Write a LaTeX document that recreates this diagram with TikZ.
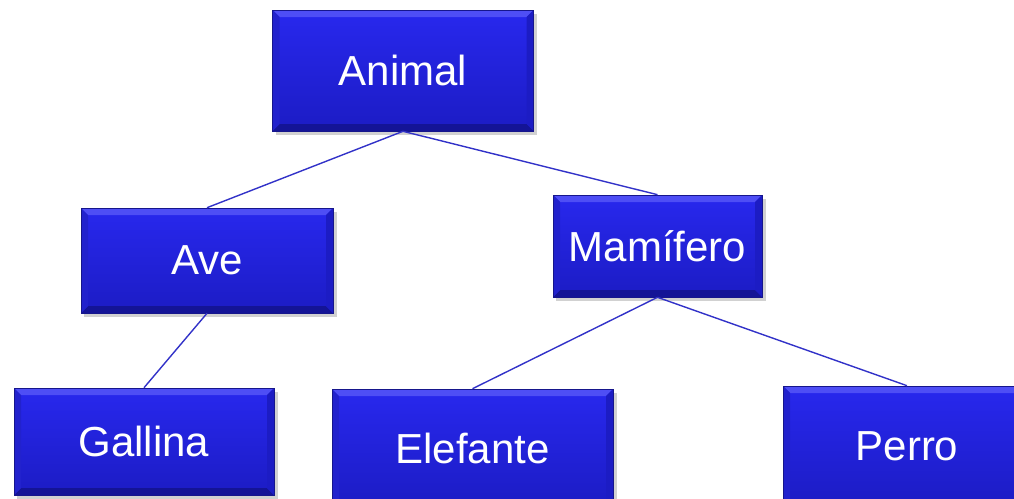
\documentclass[tikz,border=0pt]{standalone}
\usepackage{fontspec}
\setmainfont{Liberation Sans}
\definecolor{boxtop}{RGB}{40,40,238}
\definecolor{boxbot}{RGB}{28,28,196}
\definecolor{boxedge}{RGB}{22,22,140}
\definecolor{bevlight}{RGB}{78,78,245}
\definecolor{bevdark}{RGB}{20,20,150}
\definecolor{bevside}{RGB}{34,34,205}
\definecolor{linkblue}{RGB}{50,50,200}
\tikzset{
  box/.style={rectangle, top color=boxtop, bottom color=boxbot, draw=boxedge, line width=0.6pt,
    text=white, font=\fontsize{42}{50}\selectfont, inner sep=0pt,
    path picture={
      \coordinate (nw) at (path picture bounding box.north west);
      \coordinate (ne) at (path picture bounding box.north east);
      \coordinate (sw) at (path picture bounding box.south west);
      \coordinate (se) at (path picture bounding box.south east);
      \fill[bevlight] (nw) -- (ne) -- ([xshift=-7pt,yshift=-7pt]ne) -- ([xshift=7pt,yshift=-7pt]nw) -- cycle;
      \fill[bevdark] (sw) -- (se) -- ([xshift=-7pt,yshift=7pt]se) -- ([xshift=7pt,yshift=7pt]sw) -- cycle;
      \fill[bevside] (nw) -- ([xshift=7pt,yshift=-7pt]nw) -- ([xshift=7pt,yshift=7pt]sw) -- (sw) -- cycle;
      \fill[boxbot] (ne) -- ([xshift=-7pt,yshift=-7pt]ne) -- ([xshift=-7pt,yshift=7pt]se) -- (se) -- cycle;
    }},
  link/.style={draw=linkblue, line width=1.4pt},
  shadowbox/.style={fill=black, opacity=0.18}
}
\begin{document}
\begin{tikzpicture}[x=1pt,y=-1pt]
\useasboundingbox (0,0) rectangle (1014,498);
\clip (0,0) rectangle (1014,498);
% shadows
\fill[shadowbox] (276,14) rectangle (537,135);
\fill[shadowbox] (84,212) rectangle (337,317);
\fill[shadowbox] (556,199) rectangle (766,301);
\fill[shadowbox] (17,392) rectangle (278,499);
\fill[shadowbox] (335,393) rectangle (617,510);
\fill[shadowbox] (786,390) rectangle (1040,510);
% boxes
\node[box, minimum width=261pt, minimum height=121pt] (animal) at (403,70.5) {Animal};
\node[box, minimum width=252pt, minimum height=105pt] (ave) at (207,260.5) {Ave};
\node[box, minimum width=209pt, minimum height=102pt] (mam) at (657.5,246) {Mamífero};
\node[box, minimum width=260pt, minimum height=107pt] (gal) at (144,441.5) {Gallina};
\node[box, minimum width=281pt, minimum height=118pt] (ele) at (472.5,448) {Elefante};
\node[box, minimum width=248pt, minimum height=120pt] (per) at (907,446) {Perro};
% connectors
\begin{scope}[on background layer/.style={}]
\draw[link] (animal.south) -- (ave.north);
\draw[link] (animal.south) -- (mam.north);
\draw[link] (ave.south) -- (gal.north);
\draw[link] (mam.south) -- (ele.north);
\draw[link] (mam.south) -- (per.north);
\end{scope}
\end{tikzpicture}
\end{document}
